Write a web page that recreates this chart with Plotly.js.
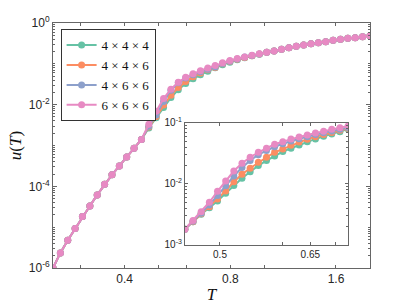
<!DOCTYPE html>
<html>
<head>
<meta charset="utf-8">
<script src="https://cdn.plot.ly/plotly-3.0.1.min.js"></script>
<style>html,body{margin:0;padding:0;background:#fff;}#chart{width:409px;height:307px;}</style>
</head>
<body>
<div id="chart"></div>
<script>
// ---- main panel data ----
const T = [0.2500,0.2624,0.2754,0.2890,0.3033,0.3184,0.3341,0.3507,0.3681,0.3863,
  0.4054,0.4255,0.4466,0.4687,0.4919,0.5163,0.5419,0.5687,0.5969,0.6265,
  0.6575,0.6901,0.7243,0.7602,0.7978,0.8374,0.8789,0.9224,0.9681,1.0161,
  1.0664,1.1192,1.1747,1.2329,1.2940,1.3581,1.4253,1.4959,1.5700,1.6478,
  1.7294,1.8151,1.9050,2.0000];

const u444 = [1.00e-6,2.34e-6,4.79e-6,9.33e-6,1.82e-5,3.31e-5,6.17e-5,1.12e-4,1.91e-4,3.16e-4,
  5.25e-4,8.51e-4,1.41e-3,2.69e-3,4.79e-3,8.57e-3,1.49e-2,2.32e-2,3.30e-2,4.29e-2,
  5.43e-2,6.59e-2,7.98e-2,9.55e-2,0.110,0.126,0.141,0.157,0.172,0.191,
  0.206,0.227,0.248,0.269,0.289,0.311,0.330,0.348,0.377,0.399,
  0.422,0.437,0.461,0.489];
const u446 = [1.00e-6,2.34e-6,4.79e-6,9.33e-6,1.82e-5,3.31e-5,6.17e-5,1.12e-4,1.91e-4,3.16e-4,
  5.25e-4,8.51e-4,1.41e-3,2.82e-3,5.13e-3,9.77e-3,1.70e-2,2.63e-2,3.67e-2,4.86e-2,
  6.00e-2,7.19e-2,8.18e-2,0.100,0.1135,0.129,0.1435,0.158,0.173,0.191,
  0.206,0.227,0.248,0.269,0.289,0.311,0.330,0.348,0.377,0.399,
  0.422,0.437,0.461,0.489];
const u466 = [1.00e-6,2.34e-6,4.79e-6,9.33e-6,1.82e-5,3.31e-5,6.17e-5,1.12e-4,1.91e-4,3.16e-4,
  5.25e-4,8.51e-4,1.41e-3,2.95e-3,5.62e-3,1.20e-2,2.26e-2,3.43e-2,4.47e-2,5.43e-2,
  6.43e-2,7.38e-2,8.41e-2,0.102,0.116,0.132,0.146,0.160,0.175,0.191,
  0.206,0.227,0.248,0.269,0.289,0.311,0.330,0.348,0.377,0.399,
  0.422,0.437,0.461,0.489];
const u666 = [1.00e-6,2.34e-6,4.79e-6,9.33e-6,1.82e-5,3.31e-5,6.17e-5,1.12e-4,1.91e-4,3.16e-4,
  5.25e-4,8.51e-4,1.41e-3,3.31e-3,6.92e-3,1.41e-2,2.40e-2,3.55e-2,4.68e-2,5.69e-2,
  6.76e-2,7.94e-2,9.12e-2,0.107,0.120,0.135,0.148,0.162,0.176,0.191,
  0.206,0.227,0.248,0.269,0.289,0.311,0.330,0.348,0.377,0.399,
  0.422,0.437,0.461,0.489];

// ---- inset data ----
const Tin = [0.4515,0.4623,0.4734,0.4848,0.4964,0.5083,0.5205,0.5330,0.5458,0.5589,
  0.5723,0.5860,0.6001,0.6145,0.6292,0.6443,0.6598,0.6756,0.6918,0.7084,0.7255];
const in444 = [1.81e-3,2.41e-3,3.18e-3,4.09e-3,5.26e-3,7.03e-3,9.40e-3,1.24e-2,1.59e-2,2.00e-2,
  2.42e-2,2.88e-2,3.39e-2,3.85e-2,4.36e-2,4.94e-2,5.47e-2,6.04e-2,6.61e-2,7.21e-2,7.98e-2];
const in446 = [1.81e-3,2.41e-3,3.24e-3,4.25e-3,5.68e-3,7.67e-3,1.09e-2,1.44e-2,1.81e-2,2.26e-2,
  2.74e-2,3.30e-2,3.75e-2,4.32e-2,4.88e-2,5.43e-2,5.96e-2,6.46e-2,7.00e-2,7.59e-2,8.18e-2];
const in466 = [1.81e-3,2.45e-3,3.31e-3,4.53e-3,6.46e-3,9.33e-3,1.35e-2,1.86e-2,2.43e-2,3.02e-2,
  3.55e-2,4.07e-2,4.57e-2,5.07e-2,5.50e-2,5.96e-2,6.46e-2,6.92e-2,7.41e-2,7.85e-2,8.41e-2];
const in666 = [1.81e-3,2.51e-3,3.52e-3,5.01e-3,7.59e-3,1.12e-2,1.63e-2,2.18e-2,2.74e-2,3.30e-2,
  3.85e-2,4.47e-2,4.94e-2,5.47e-2,5.89e-2,6.35e-2,6.84e-2,7.33e-2,7.85e-2,8.38e-2,8.93e-2];

const names = ['4 × 4 × 4','4 × 4 × 6','4 × 6 × 6','6 × 6 × 6'];
const colors = ['#66c2a5','#fc8d62','#8da0cb','#e78ac3'];
const xTickVals = [0.4,0.8,1.6];
const xTickText = ['0.4','0.8','1.6'];
const xMinorVals = [0.3,0.5,0.6,1.0,2.0];
const yTickVals = [1e-6,1e-4,1e-2,1];
const yTickText = ['10<sup>-6</sup>','10<sup>-4</sup>','10<sup>-2</sup>','10<sup>0</sup>'];
const inXTickVals = [0.5,0.65];
const inXTickText = ['0.5','0.65'];
const inXMinorVals = [0.6,0.7];
const inYTickVals = [1e-3,1e-2,1e-1];
const inYTickText = ['10<sup>-3</sup>','10<sup>-2</sup>','10<sup>-1</sup>'];

function minorLog(lo, hi){
  const v=[];
  for(let e=lo;e<hi;e++){for(let m=1;m<10;m++){ if(m===1 && e===lo) continue; v.push(m*Math.pow(10,e)); }}
  return v;
}

const mainY = [u444,u446,u466,u666];
const inY = [in444,in446,in466,in666];
const traces = [];
for(let i=0;i<4;i++){
  traces.push({x:T, y:mainY[i], name:names[i], type:'scatter', mode:'lines+markers',
    line:{color:colors[i], width:2}, marker:{color:colors[i], size:7}, xaxis:'x', yaxis:'y'});
}
for(let i=0;i<4;i++){
  traces.push({x:Tin, y:inY[i], name:names[i], showlegend:false, type:'scatter', mode:'lines+markers',
    line:{color:colors[i], width:2}, marker:{color:colors[i], size:7}, xaxis:'x2', yaxis:'y2'});
}

const tickFont = {family:'Liberation Sans, Arial, sans-serif', size:12, color:'#262626'};
const inTickFont = {family:'Liberation Sans, Arial, sans-serif', size:10, color:'#262626'};
const axLine = '#666';

const layout = {
  width:409, height:307,
  margin:{l:53, r:39, t:23, b:39},
  paper_bgcolor:'#fff', plot_bgcolor:'#fff',
  showlegend:true,
  legend:{x:0.024, y:0.975, xanchor:'left', yanchor:'top', bgcolor:'#fff',
    bordercolor:'#333', borderwidth:1, font:{family:'Liberation Serif, serif', size:13, color:'#111'},
    itemwidth:30, tracegroupgap:0},
  xaxis:{type:'log', domain:[0,1], anchor:'y', range:[Math.log10(0.25), Math.log10(2)],
    tickmode:'array', tickvals:xTickVals, ticktext:xTickText, ticks:'inside', ticklen:3,
    tickcolor:axLine, showline:true, linecolor:axLine, linewidth:1, mirror:'allticks',
    minor:{tickmode:'array', tickvals:xMinorVals, ticks:'inside', ticklen:3, tickcolor:axLine, showgrid:false},
    showgrid:false, zeroline:false, tickfont:tickFont, automargin:false,
    title:{text:'<i>T</i>', font:{family:'Liberation Serif, serif', size:17, color:'#111'}, standoff:2}},
  yaxis:{type:'log', domain:[0,1], anchor:'x', range:[-6,0],
    tickmode:'array', tickvals:yTickVals, ticktext:yTickText, ticks:'inside', ticklen:4,
    tickcolor:axLine, showline:true, linecolor:axLine, linewidth:1, mirror:'allticks',
    showgrid:false, zeroline:false, tickfont:tickFont, automargin:false,
    minor:{tickmode:'array', tickvals:minorLog(-6,0), ticks:'inside', ticklen:2, tickcolor:axLine, showgrid:false},
    title:{text:'<i>u</i>(<i>T</i>)', font:{family:'Liberation Serif, serif', size:17, color:'#111'}, standoff:2}},
  xaxis2:{type:'log', domain:[0.416,0.931], anchor:'y2', range:[Math.log10(0.4515), Math.log10(0.7255)],
    tickmode:'array', tickvals:inXTickVals, ticktext:inXTickText, ticks:'inside', ticklen:3,
    tickcolor:axLine, showline:true, linecolor:axLine, linewidth:1, mirror:'allticks',
    minor:{tickmode:'array', tickvals:inXMinorVals, ticks:'inside', ticklen:3, tickcolor:axLine, showgrid:false},
    showgrid:false, zeroline:false, tickfont:inTickFont, automargin:false},
  yaxis2:{type:'log', domain:[0.094,0.592], anchor:'x2', range:[-3,-1],
    tickmode:'array', tickvals:inYTickVals, ticktext:inYTickText, ticks:'inside', ticklen:3,
    tickcolor:axLine, showline:true, linecolor:axLine, linewidth:1, mirror:'allticks',
    showgrid:false, zeroline:false, tickfont:inTickFont, automargin:false,
    minor:{tickmode:'array', tickvals:minorLog(-3,-1), ticks:'inside', ticklen:2, tickcolor:axLine, showgrid:false}}
};

Plotly.newPlot('chart', traces, layout, {displayModeBar:false, staticPlot:true});
</script>
</body>
</html>
